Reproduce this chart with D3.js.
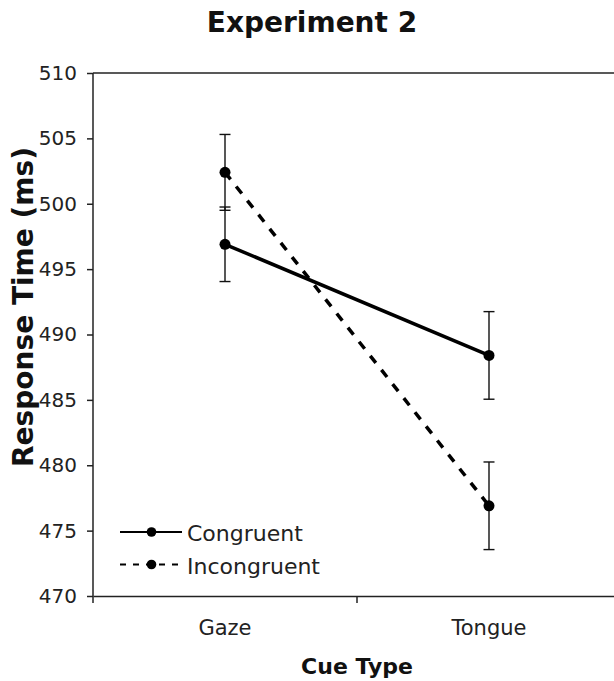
<!DOCTYPE html>
<html>
<head>
<meta charset="utf-8">
<script src="https://cdn.jsdelivr.net/npm/d3@7"></script>
<style>
  body { margin: 0; background: #fff; }
  svg { display: block; font-family: "DejaVu Sans", Verdana, sans-serif; }
</style>
</head>
<body>
<svg id="chart" width="614" height="681"></svg>
<script>
// values
var categories = ["Gaze", "Tongue"];
var congruent = [496.9, 488.4];
var congruentErr = [2.85, 3.35];
var incongruent = [502.4, 476.9];
var incongruentErr = [2.9, 3.35];
var yTicks = [470, 475, 480, 485, 490, 495, 500, 505, 510];

var svg = d3.select("#chart"),
    plotLeft = 93, plotRight = 621, plotTop = 73, plotBottom = 596;

var xScale = d3.scaleBand().domain(categories).range([plotLeft, plotRight]).padding(0),
    yScale = d3.scaleLinear().domain([470, 510]).range([plotBottom, plotTop]);

var series = [
  { name: "Congruent", values: congruent, err: congruentErr, dash: null, legendDash: null },
  { name: "Incongruent", values: incongruent, err: incongruentErr, dash: "9,9", legendDash: "6,7" }
];

// title
svg.append("text")
   .attr("x", 312).attr("y", 32)
   .attr("text-anchor", "middle")
   .attr("font-size", 28).attr("font-weight", "bold")
   .attr("fill", "#111")
   .text("Experiment 2");

// top border of plot area
svg.append("line")
   .attr("x1", plotLeft).attr("x2", plotRight)
   .attr("y1", plotTop).attr("y2", plotTop)
   .attr("stroke", "#222").attr("stroke-width", 1.5);

// y axis
var yAxis = svg.append("g")
   .attr("transform", "translate(" + plotLeft + ",0)")
   .call(d3.axisLeft(yScale).tickValues(yTicks).tickSize(6).tickSizeOuter(0).tickPadding(10));
yAxis.select(".domain").attr("stroke", "#222").attr("stroke-width", 1.5)
     .attr("d", "M0," + plotTop + "V" + (plotBottom + 7));
yAxis.selectAll(".tick line").attr("stroke", "#222").attr("stroke-width", 1.5);
yAxis.selectAll(".tick text").attr("font-size", 20).attr("fill", "#222")
     .attr("font-family", "DejaVu Sans, Verdana, sans-serif");

// x axis with category labels
var xAxis = svg.append("g")
   .attr("transform", "translate(0," + plotBottom + ")")
   .call(d3.axisBottom(xScale).tickSize(0).tickPadding(24));
xAxis.select(".domain").attr("stroke", "#222").attr("stroke-width", 1.5);
xAxis.selectAll(".tick text").attr("font-size", 21).attr("fill", "#222")
     .attr("font-family", "DejaVu Sans, Verdana, sans-serif");

// tick marks between categories
xAxis.selectAll(".bound")
   .data(categories.slice(1))
   .enter().append("line")
   .attr("class", "bound")
   .attr("x1", function(d) { return xScale(d); })
   .attr("x2", function(d) { return xScale(d); })
   .attr("y1", 0).attr("y2", 7)
   .attr("stroke", "#222").attr("stroke-width", 1.5);

// axis titles
svg.append("text")
   .attr("x", 357).attr("y", 674)
   .attr("text-anchor", "middle")
   .attr("font-size", 22).attr("font-weight", "bold")
   .attr("fill", "#111")
   .text("Cue Type");

svg.append("text")
   .attr("transform", "translate(33,307) rotate(-90)")
   .attr("text-anchor", "middle")
   .attr("font-size", 28).attr("font-weight", "bold")
   .attr("fill", "#111")
   .text("Response Time (ms)");

var cx = function(i) { return xScale(categories[i]) + xScale.bandwidth() / 2; };

var line = d3.line()
   .x(function(d, i) { return cx(i); })
   .y(function(d) { return yScale(d); });

series.forEach(function(s) {
  var g = svg.append("g");

  // error bars
  var eb = g.selectAll(".err")
     .data(s.values)
     .enter().append("g")
     .attr("class", "err");
  eb.append("line")
     .attr("x1", function(d, i) { return cx(i); })
     .attr("x2", function(d, i) { return cx(i); })
     .attr("y1", function(d, i) { return yScale(d + s.err[i]); })
     .attr("y2", function(d, i) { return yScale(d - s.err[i]); })
     .attr("stroke", "#111").attr("stroke-width", 1.4);
  [1, -1].forEach(function(sign) {
    eb.append("line")
       .attr("x1", function(d, i) { return cx(i) - 5.5; })
       .attr("x2", function(d, i) { return cx(i) + 5.5; })
       .attr("y1", function(d, i) { return yScale(d + sign * s.err[i]); })
       .attr("y2", function(d, i) { return yScale(d + sign * s.err[i]); })
       .attr("stroke", "#111").attr("stroke-width", 1.4);
  });

  g.append("path")
     .datum(s.values)
     .attr("d", line)
     .attr("fill", "none")
     .attr("stroke", "#000")
     .attr("stroke-width", 3.5)
     .attr("stroke-dasharray", s.dash);

  g.selectAll(".dot")
     .data(s.values)
     .enter().append("circle")
     .attr("class", "dot")
     .attr("cx", function(d, i) { return cx(i); })
     .attr("cy", function(d) { return yScale(d); })
     .attr("r", 5.5)
     .attr("fill", "#000");
});

// legend
var legend = svg.append("g").attr("transform", "translate(120,532)");
var row = legend.selectAll(".row")
   .data(series)
   .enter().append("g")
   .attr("class", "row")
   .attr("transform", function(d, i) { return "translate(0," + (i * 32.5) + ")"; });
row.append("line")
   .attr("x1", 0).attr("x2", 62)
   .attr("stroke", "#000").attr("stroke-width", 2.2)
   .attr("stroke-dasharray", function(d) { return d.legendDash; });
row.append("circle")
   .attr("cx", 31.5).attr("r", 4.8).attr("fill", "#000");
row.append("text")
   .attr("x", 67).attr("y", 9)
   .attr("font-size", 22).attr("fill", "#222")
   .text(function(d) { return d.name; });
</script>
</body>
</html>
